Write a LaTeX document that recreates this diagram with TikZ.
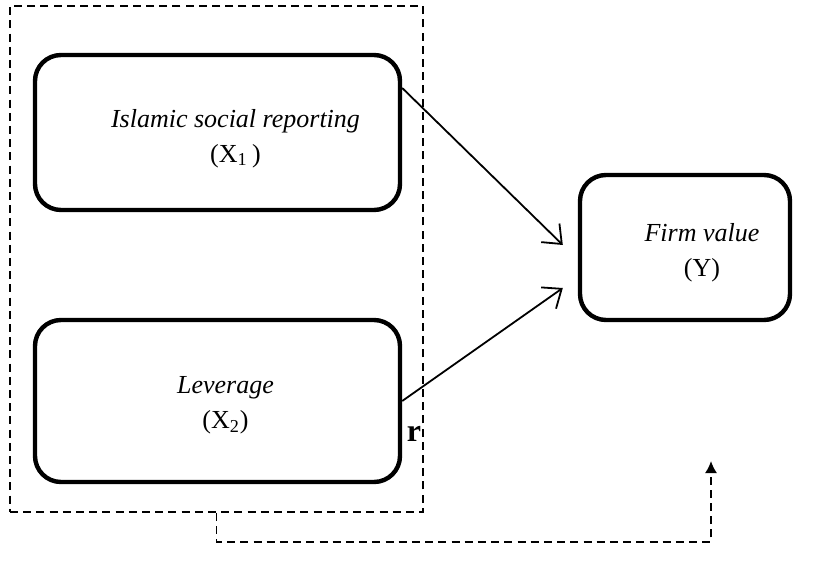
\documentclass[tikz,border=0pt]{standalone}
\usepackage{fontspec}
\setmainfont{Liberation Serif}
\usetikzlibrary{arrows.meta,positioning,calc}

\begin{document}
\begin{tikzpicture}[x=.5pt,y=-.5pt,>=Latex,
  varbox/.style={draw,line width=2.2pt,rounded corners=13pt},
  vartext/.style={align=center,font=\fontsize{13}{17.5}\selectfont},
  frame/.style={draw,line width=.8pt,dash pattern=on 4pt off 2.6pt},
  link/.style={line width=.9pt,-{Straight Barb[length=8pt,width=13pt]}},
  back/.style={line width=.9pt,dash pattern=on 4pt off 2.6pt,-{Latex[length=6pt,width=6pt]}}]
\useasboundingbox (0,0) rectangle (839,572);
% moderated group
\node[frame,minimum width=206.5pt,minimum height=253pt] (grp) at (216.5,259) {};
\node[varbox,minimum width=182.5pt,minimum height=77.5pt] (isr) at (217.5,132.5) {};
\node[varbox,minimum width=182.5pt,minimum height=81pt] (lev) at (217.5,401) {};
\node[varbox,minimum width=105pt,minimum height=72.5pt] (fv) at (685,247.5) {};
% texts, a little right of centre as in the original
\node[vartext] (isrtext) at ($(isr.center)+(18,6)$)
  {\textit{Islamic social reporting}\\(X\textsubscript{1}\,)};
\node[vartext] (levtext) at ($(lev.center)+(8,4)$)
  {\textit{Leverage}\\(X\textsubscript{2})};
\node[vartext] (fvtext) at ($(fv.center)+(17,5)$)
  {\textit{Firm value}\\(Y)};
\node[font=\fontsize{16}{20}\selectfont\bfseries] (mark) at (414,434) {r};
\coordinate (tip) at (711,461);
% paths
\draw[link] ($(isr.east)+(0,-44.5)$) -- ($(fv.west)+(-15,-2.5)$);
\draw[link] (lev.east) -- ($(fv.west)+(-15,40.5)$);
\draw[back] (grp.south) -- ++(0,29) -| (tip);
\end{tikzpicture}
\end{document}
